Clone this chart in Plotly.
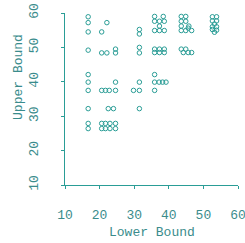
import plotly.graph_objects as go

# Lower / upper bound pairs
lower_bound = [
    16.7, 16.7, 16.7, 16.7, 16.7, 16.7, 16.7, 16.7, 16.7, 16.7,
    20.6, 20.6, 20.6, 20.6, 20.6,
    21.7, 21.7, 21.7,
    22.1, 22.1,
    22.8, 23.0, 23.0, 22.5,
    24.0,
    24.6, 24.6, 24.6, 24.6, 24.6, 24.6,
    29.8,
    31.5, 31.5, 31.5, 31.5, 31.5, 31.5, 31.5,
    35.9, 38.4, 35.9, 37.3, 38.7, 37.3, 35.9, 37.3, 38.7,
    35.9, 37.3, 38.7, 35.9, 37.3, 38.7,
    35.9, 35.9, 37.2, 38.2, 39.2, 35.9,
    43.6, 44.9, 43.6, 44.9, 43.6, 45.8, 43.6, 44.9, 46.6, 45.6,
    43.6, 44.9, 44.2, 45.6, 46.6,
    52.6, 53.8, 52.6, 53.8, 53.2, 52.6, 53.8, 52.6, 53.8, 53.2,
]
upper_bound = [
    58.9, 57.2, 54.5, 49.2, 42.1, 39.9, 37.5, 32.2, 27.9, 26.4,
    54.5, 48.4, 37.5, 27.9, 26.4,
    37.5, 27.9, 26.4,
    57.2, 48.4,
    37.5, 27.9, 26.4, 32.2,
    32.2,
    49.5, 48.4, 39.9, 37.5, 27.9, 26.4,
    37.5,
    55.2, 53.9, 50.0, 48.4, 39.9, 37.5, 32.2,
    59.0, 59.0, 57.6, 57.6, 57.6, 56.2, 54.9, 54.9, 54.9,
    49.5, 49.5, 49.5, 48.5, 48.5, 48.5,
    42.1, 39.9, 39.9, 39.9, 39.9, 37.5,
    59.0, 59.0, 57.6, 57.6, 56.2, 56.2, 54.9, 54.9, 54.9, 55.6,
    49.5, 49.5, 48.5, 48.5, 48.5,
    58.9, 58.9, 57.7, 57.7, 56.8, 56.0, 56.0, 55.2, 55.0, 54.4,
]
tick_values = [10, 20, 30, 40, 50, 60]

teal = "#2a9d96"
text_col = "#3a8c8c"
font_family = "Liberation Mono, DejaVu Sans Mono, monospace"

fig = go.Figure(
    go.Scatter(
        x=lower_bound,
        y=upper_bound,
        mode="markers",
        marker=dict(symbol="circle-open", size=4.5, color=teal,
                    line=dict(color=teal, width=1)),
        showlegend=False,
    )
)

axis_common = dict(
    range=[10, 60],
    tickvals=tick_values,
    showgrid=False,
    zeroline=False,
    showline=True,
    linecolor=teal,
    linewidth=1,
    ticks="outside",
    ticklen=3,
    tickcolor=teal,
    tickfont=dict(family=font_family, size=13, color=text_col),
    ticklabeloverflow="allow",
    automargin=False,
)

fig.update_layout(
    width=245,
    height=243,
    margin=dict(l=65, r=7, t=13, b=58),
    plot_bgcolor="white",
    paper_bgcolor="white",
    xaxis=dict(**axis_common, ticklabelstandoff=14),
    yaxis=dict(**axis_common, tickangle=-90, ticklabelstandoff=18),
    annotations=[
        dict(text="Lower Bound", xref="paper", yref="paper", x=0.5, y=-0.275,
             showarrow=False, xanchor="center", yanchor="middle",
             font=dict(family=font_family, size=13, color=text_col)),
        dict(text="Upper Bound", xref="paper", yref="paper", x=-0.27, y=0.63,
             showarrow=False, textangle=-90, xanchor="center", yanchor="middle",
             font=dict(family=font_family, size=13, color=text_col)),
    ],
)

fig.write_html(
    "out.html",
    config={"displayModeBar": False},
    post_script="document.body.style.margin='0';document.body.style.overflow='hidden';",
)
